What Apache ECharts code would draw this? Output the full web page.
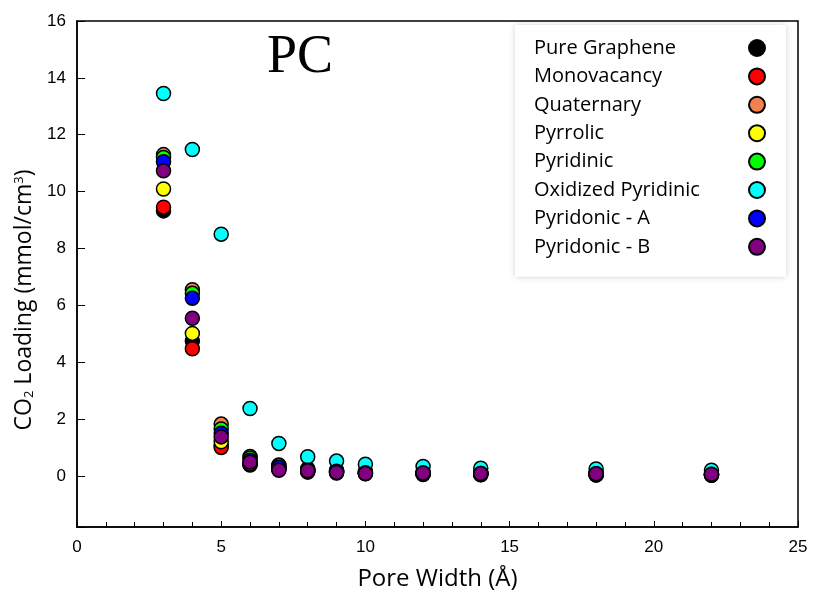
<!DOCTYPE html>
<html>
<head>
<meta charset="utf-8">
<script src="https://cdn.jsdelivr.net/npm/echarts@6/dist/echarts.min.js"></script>
<style>
  html, body { margin: 0; padding: 0; background: #fff; }
  #main { width: 815px; height: 602px; }
</style>
</head>
<body>
<div id="main"></div>
<script>
var poreWidth = [3, 4, 5, 6, 7, 8, 9, 10, 12, 14, 18, 22];

var seriesNames = ['Pure Graphene', 'Monovacancy', 'Quaternary', 'Pyrrolic',
    'Pyridinic', 'Oxidized Pyridinic', 'Pyridonic - A', 'Pyridonic - B'];

var pureGraphene = [9.32, 4.74, 1.08, 0.38, 0.30, 0.18, 0.14, 0.10, 0.07, 0.05, 0.04, 0.03];
var monovacancy  = [9.45, 4.47, 1.00, 0.40, 0.22, 0.13, 0.10, 0.07, 0.05, 0.04, 0.03, 0.02];
var quaternary   = [11.30, 6.55, 1.82, 0.68, 0.38, 0.25, 0.20, 0.15, 0.12, 0.10, 0.08, 0.06];
var pyrrolic     = [10.09, 5.01, 1.20, 0.42, 0.25, 0.15, 0.12, 0.08, 0.06, 0.05, 0.04, 0.03];
var pyridinic    = [11.20, 6.42, 1.65, 0.63, 0.36, 0.23, 0.18, 0.13, 0.10, 0.08, 0.07, 0.05];
var oxidized     = [13.45, 11.48, 8.50, 2.37, 1.14, 0.67, 0.52, 0.41, 0.33, 0.27, 0.24, 0.20];
var pyridonicA   = [11.05, 6.25, 1.50, 0.55, 0.30, 0.20, 0.16, 0.11, 0.10, 0.08, 0.07, 0.05];
var pyridonicB   = [10.73, 5.54, 1.37, 0.48, 0.20, 0.18, 0.12, 0.08, 0.10, 0.08, 0.07, 0.06];

var allValues = [pureGraphene, monovacancy, quaternary, pyrrolic, pyridinic, oxidized, pyridonicA, pyridonicB];
var colors = ['#000000', '#ff0000', '#f4804e', '#ffff00', '#00ff00', '#00ffff', '#0000ff', '#800080'];

var myChart = echarts.init(document.getElementById('main'));

var series = seriesNames.map(function (name, i) {
    return {
        name: name,
        type: 'scatter',
        symbol: 'circle',
        symbolSize: 14,
        itemStyle: {
            color: colors[i],
            borderColor: '#000',
            borderWidth: 1.5,
            opacity: 1
        },
        data: poreWidth.map(function (x, k) {
            return [x, allValues[i][k]];
        })
    };
});

var option = {
    backgroundColor: '#fff',
    animation: false,
    title: {
        text: 'PC',
        left: 262,
        top: 26,
        textStyle: {
            fontFamily: 'Liberation Serif',
            fontSize: 54,
            fontWeight: 'normal',
            color: '#000'
        }
    },
    legend: {
        orient: 'vertical',
        left: 515,
        top: 25,
        align: 'right',
        padding: [13, 20, 20, 19],
        backgroundColor: '#fff',
        shadowColor: 'rgba(0,0,0,0.18)',
        shadowBlur: 6,
        itemWidth: 16,
        itemHeight: 16,
        itemGap: 8.4,
        icon: 'circle',
        formatter: function (name) {
            return '{a|' + name + '}';
        },
        textStyle: {
            fontFamily: 'Open Sans',
            fontSize: 20,
            lineHeight: 18,
            color: '#000',
            rich: {
                a: {
                    width: 210,
                    align: 'left',
                    fontFamily: 'Open Sans',
                    fontSize: 20,
                    lineHeight: 18,
                    color: '#000'
                }
            }
        },
        data: seriesNames
    },
    grid: {
        show: true,
        left: 77,
        right: 17,
        top: 21,
        bottom: 75,
        borderColor: '#000',
        borderWidth: 1.5,
        backgroundColor: 'transparent'
    },
    xAxis: {
        type: 'value',
        min: 0,
        max: 25,
        interval: 5,
        name: 'Pore Width (Å)',
        nameLocation: 'middle',
        nameGap: 40,
        nameTextStyle: {
            fontFamily: 'Open Sans',
            fontSize: 24,
            color: '#000'
        },
        axisLine: { onZero: false, lineStyle: { color: '#000', width: 1.5 } },
        axisTick: { inside: true, length: 6, lineStyle: { color: '#000' } },
        minorTick: { show: true, splitNumber: 5, length: 5, lineStyle: { color: '#000' } },
        axisLabel: {
            margin: 12,
            fontFamily: 'Liberation Sans',
            fontSize: 17,
            color: '#000'
        },
        splitLine: { show: false }
    },
    yAxis: {
        type: 'value',
        min: -1.8,
        max: 16,
        splitNumber: 9,
        name: 'CO{sub|2} Loading (mmol/cm{sup|3})',
        nameLocation: 'middle',
        nameGap: 36,
        nameTextStyle: {
            fontFamily: 'Open Sans',
            fontSize: 23,
            color: '#000',
            padding: [0, 52, 0, 0],
            rich: {
                sub: { fontFamily: 'Open Sans', fontSize: 13, color: '#000', verticalAlign: 'bottom', padding: [10, 0, 0, 0] },
                sup: { fontFamily: 'Open Sans', fontSize: 13, color: '#000', verticalAlign: 'top', padding: [0, 0, 10, 0] }
            }
        },
        axisLine: { onZero: false, lineStyle: { color: '#000', width: 1.5 } },
        axisTick: { inside: true, length: 8, lineStyle: { color: '#000' } },
        axisLabel: {
            margin: 11,
            fontFamily: 'Liberation Sans',
            fontSize: 17,
            color: '#000',
            formatter: function (v) {
                return (Math.abs(v % 2) < 1e-9) ? String(v) : '';
            }
        },
        splitLine: { show: false }
    },
    series: series
};

myChart.setOption(option);
</script>
</body>
</html>
